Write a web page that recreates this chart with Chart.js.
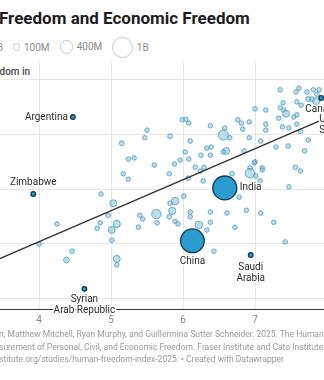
<!DOCTYPE html>
<html>
<head>
<meta charset="utf-8">
<script src="https://cdn.jsdelivr.net/npm/chart.js@4.4.1/dist/chart.umd.min.js"></script>
<style>
  html, body { margin: 0; padding: 0; background: #fff; }
  body { width: 324px; height: 380px; overflow: hidden; position: relative; font-family: Roboto, "Noto Sans", sans-serif; }
  .line { position: absolute; white-space: nowrap; }
  .cut { position: absolute; right: 100%; top: 0; white-space: nowrap; }
  #title { top: 7px; left: -1px; font-size: 17px; line-height: 22px; font-weight: 700; color: #1d1d1d; }
  #legend { top: 36px; left: -2.5px; height: 22px; display: flex; align-items: center; font-size: 10px; color: #8a8a8a; }
  #legend .first { position: relative; }
  #legend .item { display: flex; align-items: center; margin-left: 10px; }
  #legend .circ { box-sizing: border-box; border: 1px solid #c9c9c9; border-radius: 50%; margin-right: 3.5px; }
  #ytitle { top: 65px; left: -0.5px; font-size: 10px; line-height: 14px; font-weight: 500; color: #4a4a4a; }
  .foot { left: -1px; font-size: 8.5px; line-height: 12.5px; color: #9a9a9a; }
  #wrap { position: absolute; left: 0; top: 62px; width: 324px; height: 267px; }
</style>
</head>
<body>
<div id="title" class="line"><span class="cut">Human </span>Freedom and Economic Freedom</div>
<div id="legend" class="line"><span class="first"><span class="cut">Population, 202</span>3</span></div>
<div id="ytitle" class="line"><span class="cut">Human free</span>dom in</div>
<div id="wrap"><canvas id="chart"></canvas></div>
<div class="line foot" style="top:327.75px"><span class="cut">Source: Ian Vásquez, Fred McMaho</span>n, Matthew Mitchell, Ryan Murphy, and Guillermina Sutter Schneider. 2025. The Human Freedom Index 2025: A Global</div>
<div class="line foot" style="top:340.75px"><span class="cut">Mea</span>surement of Personal, Civil, and Economic Freedom. Fraser Institute and Cato Institute.</div>
<div class="line foot" style="top:352.75px"><span class="cut">https://www.fraserin</span>stitute.org/studies/human-freedom-index-2025. • Created with Datawrapper</div>

<script>
// all other countries: economic freedom, human freedom, population (millions)
const otherEcon = [
  5.50, 5.47, 5.15, 5.24, 5.32, 5.60, 5.82, 5.99, 6.04, 6.08, 6.38, 6.10, 6.39, 6.33, 6.03, 6.25, 6.38,
  7.35, 7.61, 7.57, 7.72, 7.81, 7.89, 7.86, 7.85, 7.79, 7.74, 7.39, 7.58, 7.64, 7.35, 7.00, 7.15, 7.40,
  7.43, 7.33, 7.54, 7.58, 6.76, 6.81, 6.92, 7.15, 7.15, 7.38, 7.47, 7.58, 7.63, 6.56, 6.58, 6.65, 6.83,
  6.92, 7.08, 7.29, 7.46, 7.74, 7.69, 6.60, 6.56, 6.85, 5.88, 5.96, 6.08, 6.17, 6.29, 7.00, 6.93, 7.10,
  7.56, 7.63, 5.17, 5.24, 5.81, 6.24, 6.07, 6.28, 6.68, 6.93, 7.01, 7.10, 6.99, 7.07, 7.47, 6.78, 5.89,
  5.82, 6.01, 5.85, 5.81, 5.89, 5.93, 6.10, 6.10, 6.38, 6.61, 6.88, 7.08, 7.26, 6.22, 6.38, 6.33, 6.72,
  7.42, 6.43, 5.63, 5.64, 5.40, 5.44, 5.38, 4.86, 5.03, 4.96, 5.08, 4.85, 4.81, 5.01, 5.01, 4.25, 4.00,
  4.46, 4.38, 5.08, 5.08
];
const otherHuman = [
  7.08, 6.94, 6.84, 6.55, 6.57, 6.44, 6.97, 7.27, 7.28, 7.21, 7.16, 6.88, 6.77, 6.75, 6.68, 6.62, 6.62,
  7.82, 7.85, 7.78, 7.78, 7.82, 7.82, 7.74, 7.61, 7.65, 7.65, 7.58, 7.60, 7.54, 7.49, 7.47, 7.45, 7.45,
  7.38, 7.30, 7.32, 7.36, 7.27, 7.21, 7.23, 7.19, 7.08, 7.14, 7.12, 7.19, 7.06, 6.99, 7.12, 6.94, 7.10,
  6.94, 6.88, 6.77, 6.79, 6.90, 6.70, 6.70, 6.68, 6.70, 6.46, 6.53, 6.55, 6.40, 6.40, 6.50, 6.39, 6.39,
  6.40, 6.33, 6.28, 6.18, 6.28, 6.33, 6.20, 6.15, 6.28, 6.29, 6.24, 6.35, 6.48, 6.15, 6.04, 5.85, 5.78,
  5.74, 5.87, 5.60, 5.49, 5.41, 5.36, 5.58, 5.49, 5.58, 5.56, 5.61, 5.56, 5.39, 5.34, 5.39, 5.25, 5.30,
  5.03, 4.86, 5.54, 5.38, 5.52, 5.45, 5.30, 5.91, 5.74, 5.52, 5.36, 5.38, 5.28, 5.25, 5.06, 5.36, 4.99,
  4.86, 4.70, 4.72, 4.61
];
const otherPop = [
  15, 12, 60, 10, 10, 8, 60, 50, 12, 10, 8, 10, 8, 10, 12, 10, 8,
  10, 9, 50, 8, 6, 5, 45, 130, 60, 65, 10, 45, 10, 9, 8, 10, 50,
  120, 10, 8, 40, 10, 45, 10, 12, 10, 10, 10, 10, 8, 250, 10, 10, 10,
  10, 10, 12, 10, 8, 10, 120, 10, 10, 10, 12, 10, 40, 10, 10, 10, 10,
  10, 10, 10, 45, 10, 10, 10, 10, 50, 230, 10, 45, 10, 10, 10, 10, 140,
  10, 10, 130, 10, 10, 10, 10, 10, 10, 10, 40, 10, 10, 140, 10, 10, 10,
  10, 10, 220, 10, 10, 10, 10, 10, 120, 10, 130, 10, 10, 120, 10, 40, 40,
  40, 80, 120, 50
];

// highlighted countries
const hiNames = ['Argentina', 'Zimbabwe', 'Syrian Arab Republic', 'Saudi Arabia', 'Canada', 'United States', 'China', 'India'];
const hiEcon  = [4.47, 3.92, 4.63, 6.94, 7.92, 8.09, 6.13, 6.58];
const hiHuman = [7.32, 5.91, 4.17, 4.79, 7.67, 7.49, 5.05, 6.02];
const hiPop   = [46, 16, 23, 33, 39, 335, 1410, 1430];

// regression line end points
const trendEcon  = [3.2, 8.6];
const trendHuman = [4.58, 7.65];

// size legend
const legendPop    = [100, 400, 1000];
const legendLabels = ['100M', '400M', '1B'];

const xTicks = [4, 5, 6, 7, 8];

const rad = p => Math.max(2.3, 10 * Math.sqrt(p / 1000));

// legend circles
const legend = document.getElementById('legend');
legendPop.forEach((p, i) => {
  const d = 2 * rad(p) + 1;
  const item = document.createElement('span');
  item.className = 'item';
  item.innerHTML = '<span class="circ" style="width:' + d + 'px;height:' + d + 'px"></span>' + legendLabels[i];
  legend.appendChild(item);
});

// label placement (pixels relative to the point)
const labelPlace = {
  'Argentina': { lines: ['Argentina'], dx: -5, dy: 0, align: 'right' },
  'Zimbabwe': { lines: ['Zimbabwe'], dx: 0, dy: -11, align: 'center' },
  'Syrian Arab Republic': { lines: ['Syrian', 'Arab Republic'], dx: 0, dy: 11, align: 'center' },
  'Saudi Arabia': { lines: ['Saudi', 'Arabia'], dx: 0, dy: 12, align: 'center' },
  'Canada': { lines: ['Canada'], dx: 1, dy: 12, align: 'center' },
  'United States': { lines: ['United', 'States'], dx: 0, dy: 12, align: 'center' },
  'China': { lines: ['China'], dx: 0, dy: 21, align: 'center' },
  'India': { lines: ['India'], dx: 15, dy: 0, align: 'left' }
};

const countryLabels = {
  id: 'countryLabels',
  afterDatasetsDraw(chart) {
    const { ctx, scales: { x, y } } = chart;
    ctx.save();
    ctx.font = '10px Roboto, "Noto Sans", sans-serif';
    ctx.textBaseline = 'middle';
    ctx.lineJoin = 'round';
    hiNames.forEach((name, i) => {
      const l = labelPlace[name];
      const px = x.getPixelForValue(hiEcon[i]) + l.dx;
      const py = y.getPixelForValue(hiHuman[i]) + l.dy;
      ctx.textAlign = l.align;
      l.lines.forEach((t, j) => {
        ctx.strokeStyle = '#fff';
        ctx.lineWidth = 3;
        ctx.strokeText(t, px, py + j * 11);
        ctx.fillStyle = '#2b2b2b';
        ctx.fillText(t, px, py + j * 11);
      });
    });
    ctx.restore();
  }
};

new Chart(document.getElementById('chart'), {
  type: 'bubble',
  data: {
    datasets: [
      {
        data: otherEcon.map((v, i) => ({ x: v, y: otherHuman[i], r: rad(otherPop[i]) })),
        backgroundColor: 'rgba(120, 192, 222, 0.5)',
        borderColor: 'rgba(74, 150, 185, 0.75)',
        borderWidth: 1,
        order: 3
      },
      {
        type: 'line',
        data: trendEcon.map((v, i) => ({ x: v, y: trendHuman[i] })),
        borderColor: '#333',
        borderWidth: 1.2,
        pointRadius: 0,
        fill: false,
        order: 2
      },
      {
        data: hiEcon.map((v, i) => ({ x: v, y: hiHuman[i], r: rad(hiPop[i]) })),
        backgroundColor: '#2a9cd0',
        borderColor: '#12364a',
        borderWidth: 1.3,
        order: 1
      }
    ]
  },
  options: {
    responsive: true,
    maintainAspectRatio: false,
    animation: false,
    events: [],
    layout: { padding: 0, autoPadding: false },
    plugins: {
      legend: { display: false },
      tooltip: { enabled: false }
    },
    scales: {
      x: {
        type: 'linear',
        min: 3.458,
        max: 7.958,
        afterBuildTicks: s => { s.ticks = xTicks.filter(v => v >= s.min && v <= s.max).map(v => ({ value: v })); },
        ticks: {
          color: '#888',
          padding: 5,
          font: { family: 'Roboto', size: 10 }
        },
        grid: { color: '#e6e6e6', drawTicks: false },
        border: { display: true, color: '#333', width: 1 },
        afterFit: s => { s.height = 20; }
      },
      y: {
        min: 3.8,
        max: 8.33,
        ticks: { display: false, stepSize: 1, includeBounds: false },
        grid: { color: '#e6e6e6', drawTicks: false },
        border: { display: false },
        afterFit: s => { s.width = 0; }
      }
    }
  },
  plugins: [countryLabels]
});
</script>
</body>
</html>
